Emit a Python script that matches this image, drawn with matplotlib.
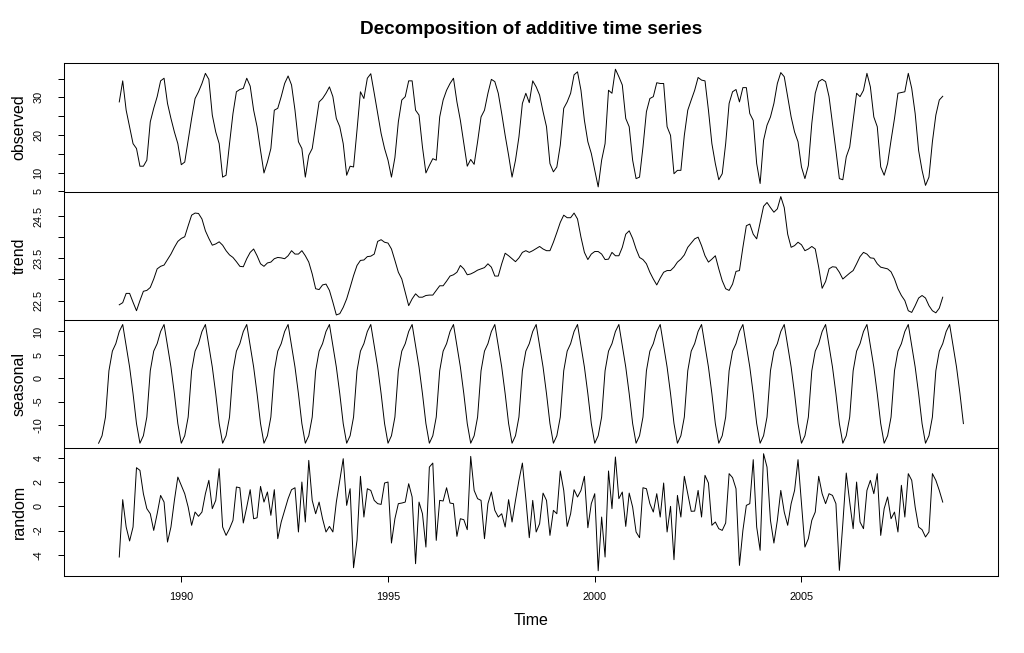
import numpy as np
import matplotlib
matplotlib.use("Agg")
import matplotlib.pyplot as plt

plt.rcParams["font.family"] = ["Liberation Sans", "DejaVu Sans"]

# monthly series, Jul 1988 - Jun 2008
observed = [
    28.8, 34.4, 26.6, 22.2, 17.7, 16.4, 11.7, 11.7, 13.3, 23.5,
    27.1, 30.2, 34.4, 35.1, 28.4, 24.4, 20.8, 17.7, 12.1, 12.8,
    18.6, 24.4, 29.7, 31.5, 33.7, 36.4, 34.8, 25.3, 20.8, 17.7,
    8.8, 9.3, 17.7, 25.7, 31.5, 32.1, 32.4, 35.1, 33.0, 26.6,
    22.2, 15.9, 9.9, 12.8, 16.4, 26.6, 27.1, 30.2, 33.7, 35.7,
    33.3, 26.6, 18.2, 16.4, 8.8, 14.6, 16.4, 22.6, 28.8, 29.7,
    31.1, 32.8, 30.2, 24.4, 22.2, 17.7, 9.3, 11.7, 11.5, 21.3,
    31.5, 29.7, 35.1, 36.3, 31.1, 25.7, 20.4, 16.4, 13.3, 8.8,
    14.0, 23.5, 29.3, 30.2, 34.4, 34.4, 26.6, 25.3, 16.8, 9.9,
    11.9, 13.7, 13.3, 24.8, 29.3, 31.9, 33.7, 35.1, 28.8, 23.9,
    17.7, 11.7, 13.5, 12.2, 18.2, 24.8, 26.6, 31.1, 34.8, 34.2,
    31.1, 25.7, 19.9, 14.6, 8.8, 13.3, 19.5, 28.4, 31.1, 28.6,
    34.4, 32.8, 30.6, 26.2, 22.2, 12.4, 10.2, 11.5, 17.3, 27.1,
    28.8, 31.1, 36.0, 36.8, 31.9, 23.9, 18.2, 15.1, 10.6, 6.2,
    13.3, 17.7, 31.9, 31.1, 37.5, 35.5, 33.3, 24.4, 22.2, 13.3,
    8.4, 8.8, 16.8, 26.2, 29.7, 30.2, 33.9, 33.7, 33.7, 22.2,
    19.9, 9.7, 10.6, 10.6, 19.9, 26.6, 29.3, 31.9, 35.3, 34.6,
    34.4, 26.6, 17.7, 12.4, 8.1, 9.7, 17.7, 28.4, 31.5, 32.1,
    28.8, 32.6, 32.6, 25.7, 23.9, 12.4, 7.1, 18.6, 22.6, 24.8,
    28.4, 33.7, 36.6, 35.5, 30.2, 24.8, 20.8, 18.2, 11.5, 8.4,
    11.9, 23.1, 31.1, 34.2, 34.8, 34.2, 30.2, 23.1, 15.9, 8.4,
    8.1, 14.2, 16.8, 23.9, 31.1, 30.2, 31.9, 36.4, 32.8, 24.8,
    22.2, 11.5, 9.3, 12.4, 18.6, 24.4, 31.1, 31.3, 31.5, 36.4,
    32.4, 25.7, 15.9, 10.6, 6.6, 8.8, 18.2, 25.3, 29.3, 30.3,
]

trend = [
    22.40, 22.45, 22.67, 22.67, 22.46, 22.26, 22.50, 22.72, 22.74, 22.81,
    23.01, 23.25, 23.31, 23.34, 23.47, 23.60, 23.76, 23.90, 23.97, 24.01,
    24.27, 24.52, 24.57, 24.56, 24.43, 24.15, 23.97, 23.81, 23.84, 23.89,
    23.81, 23.68, 23.58, 23.52, 23.42, 23.31, 23.30, 23.49, 23.64, 23.72,
    23.56, 23.37, 23.31, 23.39, 23.41, 23.49, 23.52, 23.51, 23.49, 23.56,
    23.68, 23.60, 23.60, 23.68, 23.56, 23.41, 23.13, 22.78, 22.76, 22.87,
    22.89, 22.74, 22.46, 22.16, 22.19, 22.34, 22.54, 22.81, 23.09, 23.33,
    23.45, 23.46, 23.54, 23.55, 23.60, 23.90, 23.94, 23.88, 23.86, 23.72,
    23.45, 23.17, 23.01, 22.70, 22.38, 22.54, 22.66, 22.58, 22.58, 22.62,
    22.63, 22.63, 22.74, 22.85, 22.85, 22.96, 23.08, 23.11, 23.17, 23.33,
    23.25, 23.11, 23.13, 23.17, 23.22, 23.25, 23.28, 23.37, 23.29, 23.08,
    23.08, 23.37, 23.62, 23.56, 23.49, 23.42, 23.51, 23.64, 23.68, 23.64,
    23.68, 23.73, 23.78, 23.72, 23.68, 23.68,
    23.88, 24.11, 24.35, 24.52, 24.46, 24.46, 24.57, 24.43, 24.00, 23.64,
    23.47, 23.60, 23.66, 23.66, 23.60, 23.47, 23.48, 23.64, 23.56, 23.56,
    23.76, 24.07, 24.15, 23.97, 23.72, 23.52, 23.47, 23.37, 23.17, 23.01,
    22.87, 23.03, 23.17, 23.21, 23.21, 23.29, 23.41, 23.48, 23.58, 23.76,
    23.86, 23.96, 24.00, 23.80, 23.56, 23.41, 23.48, 23.56, 23.25, 22.97,
    22.78, 22.74, 22.89, 23.19, 23.21, 23.76, 24.27, 24.31, 24.07, 23.96,
    24.35, 24.73, 24.82, 24.70, 24.59, 24.67, 24.96, 24.70, 24.07, 23.76,
    23.80, 23.88, 23.82, 23.68, 23.72, 23.78, 23.72, 23.29, 22.79, 22.95,
    23.25, 23.30, 23.29, 23.17, 23.01, 23.08, 23.15, 23.21, 23.37, 23.54,
    23.64, 23.60, 23.51, 23.50, 23.37, 23.29, 23.27, 23.25, 23.18, 23.01,
    22.78, 22.62, 22.50, 22.26, 22.22, 22.38, 22.56, 22.62, 22.56, 22.38,
    22.26, 22.21, 22.32, 22.58,
]

# seasonal figure Jan..Dec, repeated for Jan 1988 - Dec 2008
seasonal_figure = [-13.9, -12.3, -8.3, 1.6, 5.8, 7.4, 10.0, 11.5, 7.0, 2.4, -3.3, -9.7]

random_part = [
    -4.17, 0.55, -1.70, -2.85, -1.70, 3.18, 2.96, 1.04, -0.19, -0.61,
    -1.98, -0.61, 0.90, 0.35, -2.94, -1.70, 0.49, 2.41, 1.73, 1.04,
    -0.06, -1.56, -0.47, -0.82, -0.47, 1.04, 2.14, -0.19, 0.49, 3.10,
    -1.70, -2.39, -1.84, -1.15, 1.59, 1.53, -1.37, -0.06, 1.37, -1.02,
    -0.94, 1.64, 0.35, 1.18, -0.74, 1.37, -2.66, -1.29, -0.33, 0.63,
    1.37, 1.53, -2.11, 2.00, -1.29, 3.78, 0.49, -0.61, 0.35, -1.02,
    -2.11, -1.65, -2.11, 0.35, 2.14, 3.92, 0.08, 1.45, -5.05, -2.80,
    2.47, -0.88, 1.45, 1.31, 0.49, 0.22, 0.16, 1.92, 2.00, -3.02,
    -1.02, 0.22, 0.27, 0.35, 1.86, 0.77, -4.72, 0.35, -0.61, -3.35,
    3.23, 3.56, -2.80, 0.49, 0.44, 1.53, 0.27, 0.22, -2.47, -1.02,
    -1.10, -1.92, 4.11, 1.31, 0.63, 0.49, -2.66, 0.22, 1.18, -0.33,
    -0.88, -0.61, -1.70, 0.55, -1.29, 0.49, 2.14, 3.56, 0.63, -2.58,
    0.49, -2.11, -1.43, 1.09, 0.49, -2.39, -0.33, -0.61, 2.91, 1.31,
    -1.65, -0.61, 1.37, 0.77, 1.31, 2.47, -1.76, 0.22, 1.04, -5.30,
    -0.88, -4.17, 2.91, -0.19, 4.06, 0.63, 1.18, -1.65, 1.09, -0.06,
    -2.11, -2.58, 1.53, 1.45, 0.22, -0.47, 1.04, -0.88, 1.92, -2.11,
    0.00, -4.39, 0.90, -0.88, 2.47, 1.04, -0.41, -0.39, 1.31, -0.88,
    2.55, 1.92, -1.56, -1.29, -1.84, -1.98, -1.37, 2.69, 2.36, 1.45,
    -4.86, -1.98, 0.08, 0.22, 3.84, -1.70, -3.62, 4.33, 3.23, -1.15,
    -3.02, -1.15, 1.31, -0.47, -1.56, 0.22, 1.31, 3.84, 0.22, -3.35,
    -2.66, -1.15, -0.47, 2.47, 1.04, 0.22, 1.04, 0.90, 0.22, -5.27,
    -1.43, 2.74, 0.35, -1.84, 2.00, -1.29, -1.84, 1.31, 2.14, 1.04,
    2.69, -2.39, -0.19, 0.77, -1.02, -0.47, -2.11, 1.73, -0.88, 2.69,
    2.14, -0.06, -1.70, -1.92, -2.52, -2.11, 2.69, 2.14, 1.31, 0.35,
]

t_main = 1988.5 + np.arange(len(observed)) / 12
seasonal = np.tile(seasonal_figure, 21)
t_seas = 1988.0 + np.arange(len(seasonal)) / 12

span = t_seas[-1] - t_seas[0]
xlim = (t_seas[0] - 0.04 * span, t_seas[-1] + 0.04 * span)

W, H = 1024, 653
fig = plt.figure(figsize=(W / 100, H / 100), dpi=100)

left, right = 64, 998
tops = [63.3, 191.5, 319.8, 448.0]
ph = 128.1

panels = [
    ("observed", t_main, observed, (5.05, 39.07),
     [5, 10, 15, 20, 25, 30, 35], ["5", "10", "", "20", "", "30", ""]),
    ("trend", t_main, trend, (22.05, 25.08),
     [22.5, 23.0, 23.5, 24.0, 24.5], ["22.5", "", "23.5", "", "24.5"]),
    ("seasonal", t_seas, seasonal, (-14.9, 12.5),
     [-10, -5, 0, 5, 10], ["-10", "-5", "0", "5", "10"]),
    ("random", t_main, random_part, (-5.74, 4.80),
     [-4, -2, 0, 2, 4], ["-4", "-2", "0", "2", "4"]),
]

for i, (name, x, y, ylim, ticks, labels) in enumerate(panels):
    top = tops[i]
    ax = fig.add_axes([left / W, 1 - (top + ph) / H, (right - left) / W, ph / H])
    ax.plot(x, y, color="black", lw=0.7)
    ax.set_xlim(xlim)
    ax.set_ylim(ylim)
    ax.set_yticks(ticks)
    ax.set_yticklabels(labels, rotation=90, va="center")
    ax.tick_params(direction="out", length=4.3, width=0.72, labelsize=7.8, pad=10.5)
    for sp in ax.spines.values():
        sp.set_linewidth(0.75)
    if i < 3:
        # the next panel's top edge draws the shared border
        ax.spines["bottom"].set_visible(False)
    ax.set_ylabel(name, fontsize=11.5, labelpad=5)
    if i < 3:
        ax.set_xticks([])
    else:
        ax.set_xticks([1990, 1995, 2000, 2005])
        ax.set_xticklabels(["1990", "1995", "2000", "2005"])
        ax.tick_params(axis="x", pad=7)
        ax.set_xlabel("Time", fontsize=11.5, labelpad=8)

fig.text((left + right) / 2 / W, 1 - 30 / H, "Decomposition of additive time series",
         ha="center", va="center", fontsize=13.7, fontweight="bold")

fig.savefig("out.png", dpi=100)
